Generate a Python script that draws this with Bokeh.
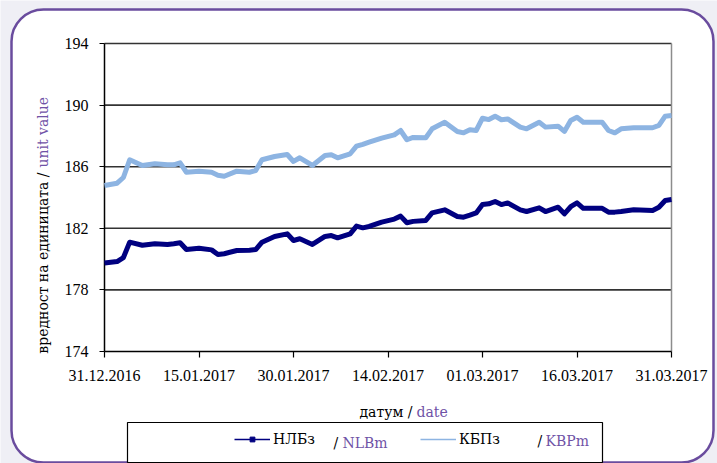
import math
import pandas as pd
from bokeh.plotting import figure
from bokeh.models import (Range1d, FixedTicker, DatetimeTickFormatter, Label,
                          BoxAnnotation, Legend, LegendItem, ColumnDataSource)
from bokeh.embed import file_html
from bokeh.resources import INLINE

# ---- data ----
dates = ["2016-12-31", "2017-01-02", "2017-01-03", "2017-01-04", "2017-01-06", "2017-01-08",
         "2017-01-10", "2017-01-11", "2017-01-12", "2017-01-13", "2017-01-15", "2017-01-17",
         "2017-01-18", "2017-01-19", "2017-01-21", "2017-01-23", "2017-01-24", "2017-01-25",
         "2017-01-27", "2017-01-29", "2017-01-30", "2017-01-31", "2017-02-02", "2017-02-04",
         "2017-02-05", "2017-02-06", "2017-02-08", "2017-02-09", "2017-02-10", "2017-02-11",
         "2017-02-13", "2017-02-15", "2017-02-16", "2017-02-17", "2017-02-18", "2017-02-20",
         "2017-02-21", "2017-02-23", "2017-02-25", "2017-02-26", "2017-02-27", "2017-02-28",
         "2017-03-01", "2017-03-02", "2017-03-03", "2017-03-04", "2017-03-05", "2017-03-07",
         "2017-03-08", "2017-03-10", "2017-03-11", "2017-03-13", "2017-03-14", "2017-03-15",
         "2017-03-16", "2017-03-17", "2017-03-20", "2017-03-21", "2017-03-22", "2017-03-23",
         "2017-03-25", "2017-03-28", "2017-03-29", "2017-03-30", "2017-03-31"]

kbp_values = [184.78, 184.93, 185.30, 186.45, 186.08, 186.19, 186.12, 186.12, 186.25, 185.64,
              185.71, 185.64, 185.45, 185.38, 185.71, 185.64, 185.75, 186.45, 186.66, 186.79,
              186.34, 186.58, 186.08, 186.73, 186.77, 186.58, 186.84, 187.33, 187.45, 187.59,
              187.85, 188.07, 188.35, 187.75, 187.90, 187.88, 188.46, 188.89, 188.29, 188.20,
              188.40, 188.35, 189.15, 189.06, 189.28, 189.05, 189.10, 188.57, 188.46, 188.89,
              188.57, 188.63, 188.29, 189.00, 189.21, 188.89, 188.89, 188.35, 188.20, 188.46,
              188.53, 188.53, 188.68, 189.28, 189.32]

nlb_values = [179.74, 179.84, 180.10, 181.10, 180.90, 181.00, 180.95, 181.00, 181.06, 180.62,
              180.71, 180.60, 180.30, 180.35, 180.56, 180.58, 180.62, 181.10, 181.47, 181.64,
              181.21, 181.32, 180.95, 181.47, 181.53, 181.38, 181.64, 182.14, 182.03, 182.12,
              182.40, 182.60, 182.79, 182.36, 182.45, 182.51, 183.00, 183.20, 182.77, 182.72,
              182.85, 183.00, 183.54, 183.59, 183.74, 183.54, 183.65, 183.20, 183.09, 183.33,
              183.09, 183.37, 182.94, 183.40, 183.65, 183.30, 183.30, 183.05, 183.05, 183.09,
              183.20, 183.16, 183.37, 183.81, 183.87]

y_ticks = [174, 178, 182, 186, 190, 194]
x_tick_labels = ["31.12.2016", "15.01.2017", "30.01.2017", "14.02.2017",
                 "01.03.2017", "16.03.2017", "31.03.2017"]

series_labels = ["НЛБз", "КБПз"]
series_labels_en = ["NLBm", "KBPm"]
y_title_bg = "вредност на единицата /"
y_title_en = "unit value"
x_title_bg = "датум /"
x_title_en = "date"

# ---- styles / layout (pixels) ----
W, H = 717, 463
PLOT_L, PLOT_R, PLOT_T, PLOT_B = 104, 671, 43, 351
TICK_FONT = "Liberation Serif"
FONT = "DejaVu Serif"
FS = "14px"
PURPLE = "#6f52a6"
BORDER_PURPLE = "#6a4c9e"
NAVY = "#000080"
LIGHT = "#8db4e2"

src = ColumnDataSource(dict(date=pd.to_datetime(dates), nlb=nlb_values, kbp=kbp_values))
x_ticks_dt = pd.to_datetime(x_tick_labels, format="%d.%m.%Y")
EPOCH = pd.Timestamp("1970-01-01")
to_ms = lambda t: (t - EPOCH) / pd.Timedelta(milliseconds=1)
x_ticks_ms = [to_ms(t) for t in x_ticks_dt]
t0, t1 = x_ticks_ms[0], x_ticks_ms[-1]
y0, y1 = y_ticks[0], y_ticks[-1]

# extend ranges so that the data area occupies the reference's pixel box
ms_per_px = (t1 - t0) / (PLOT_R - PLOT_L)
v_per_px = (y1 - y0) / (PLOT_B - PLOT_T)
x_range = Range1d(start=t0 - PLOT_L * ms_per_px, end=t1 + (W - PLOT_R) * ms_per_px)
y_range = Range1d(start=y0 - (H - PLOT_B) * v_per_px, end=y1 + PLOT_T * v_per_px)

p = figure(width=W, height=H, x_axis_type="datetime", x_range=x_range, y_range=y_range,
           output_backend="svg", toolbar_location=None,
           border_fill_color="#efeff5", background_fill_color="#efeff5",
           outline_line_color=None)
p.min_border = 0

# decorative rounded panel & legend box (canvas units)
def cbox(l, r, t, b, **kw):
    box = BoxAnnotation(left=l, right=r, top=t, bottom=b,
                        left_units="canvas", right_units="canvas",
                        top_units="canvas", bottom_units="canvas",
                        fill_alpha=1.0, line_alpha=1.0, level="image", **kw)
    p.add_layout(box)

cbox(11, 713, 9, 462, fill_color="white", line_color=BORDER_PURPLE, line_width=2.5, border_radius=32)
cbox(127, 602, 422, 462, fill_color="white", line_color="black", line_width=1.2)

# axes pinned at the data extremes (ticks + labels only)
p.yaxis.fixed_location = t0
p.xaxis.fixed_location = y0
p.yaxis.ticker = FixedTicker(ticks=y_ticks)
p.xaxis.ticker = FixedTicker(ticks=x_ticks_ms)
p.xaxis.formatter = DatetimeTickFormatter(days="%d.%m.%Y", months="%d.%m.%Y", years="%d.%m.%Y",
                                          hours="%d.%m.%Y", minutes="%d.%m.%Y")
for ax in (p.xaxis, p.yaxis):
    ax.axis_line_color = None
    ax.major_tick_line_color = "black"
    ax.major_tick_line_width = 1.2
    ax.major_tick_in = 0
    ax.minor_tick_line_color = None
    ax.major_label_text_font = TICK_FONT
    ax.major_label_text_font_size = "16px"
    ax.major_label_text_color = "black"
p.yaxis.major_tick_out = 5
p.yaxis.major_label_standoff = 11
p.xaxis.major_tick_out = 6
p.xaxis.major_label_standoff = 12

p.xgrid.visible = False
p.ygrid.visible = False

# horizontal grid lines (from the y ticks) and plot-area border
g_y = y_ticks[1:]
p.segment(x0=[t0] * len(g_y), x1=[t1] * len(g_y), y0=g_y, y1=g_y,
          line_color="#333333", line_width=1.6)
p.segment(x0=[t1], x1=[t1], y0=[y0], y1=[y1], line_color="#8c8c8c", line_width=1.5)
p.segment(x0=[t0, t0], x1=[t0, t1], y0=[y0, y0], y1=[y1, y0], line_color="black", line_width=1.5)

# data lines
r_kbp = p.line(x="date", y="kbp", source=src, line_color=LIGHT, line_width=5, line_join="round")
r_nlb = p.line(x="date", y="nlb", source=src, line_color=NAVY, line_width=5, line_join="round")

# legend samples (thin, as in reference); a single NaN row so nothing is plotted
blank = ColumnDataSource(dict(x=[float("nan")], y=[float("nan")]))
s_nlb_line = p.line(x="x", y="y", source=blank, line_color=NAVY, line_width=1.5)
s_nlb_mark = p.scatter(x="x", y="y", source=blank, marker="square", size=4, color=NAVY)
s_kbp_line = p.line(x="x", y="y", source=blank, line_color=LIGHT, line_width=1.5)

def make_legend(label, renderers, sx, sy_center):
    lg = Legend(items=[LegendItem(label=label, renderers=renderers, index=0)],
                location=(sx, H - sy_center - 6),
                orientation="horizontal", padding=0, margin=0, spacing=0,
                glyph_width=36, glyph_height=12, label_height=12, label_standoff=3,
                border_line_color=None, background_fill_alpha=0,
                label_text_font=FONT, label_text_font_size=FS, label_text_color="black")
    p.add_layout(lg, "center")

make_legend(series_labels[0], [s_nlb_line, s_nlb_mark], 234, 441)
make_legend(series_labels[1], [s_kbp_line], 420, 441)

def lab(x, y, text, color, align="left", angle=0.0):
    p.add_layout(Label(x=x, y=y, x_units="canvas", y_units="canvas", text=text,
                       text_font=FONT, text_font_size=FS, text_color=color,
                       text_align=align, text_baseline="middle", angle=angle))

# legend english parts
lab(333, 442, "/", "black")
lab(342, 442, series_labels_en[0], PURPLE)
lab(537, 440, "/", "black")
lab(545, 440, series_labels_en[1], PURPLE)

# axis titles
lab(412, 411, x_title_bg, "black", align="right")
lab(416, 411, x_title_en, PURPLE)
lab(42, 172, y_title_bg, "black", align="right", angle=math.pi / 2)
lab(42, 167, y_title_en, PURPLE, align="left", angle=math.pi / 2)

open("out.html", "w").write(file_html(p, INLINE))
